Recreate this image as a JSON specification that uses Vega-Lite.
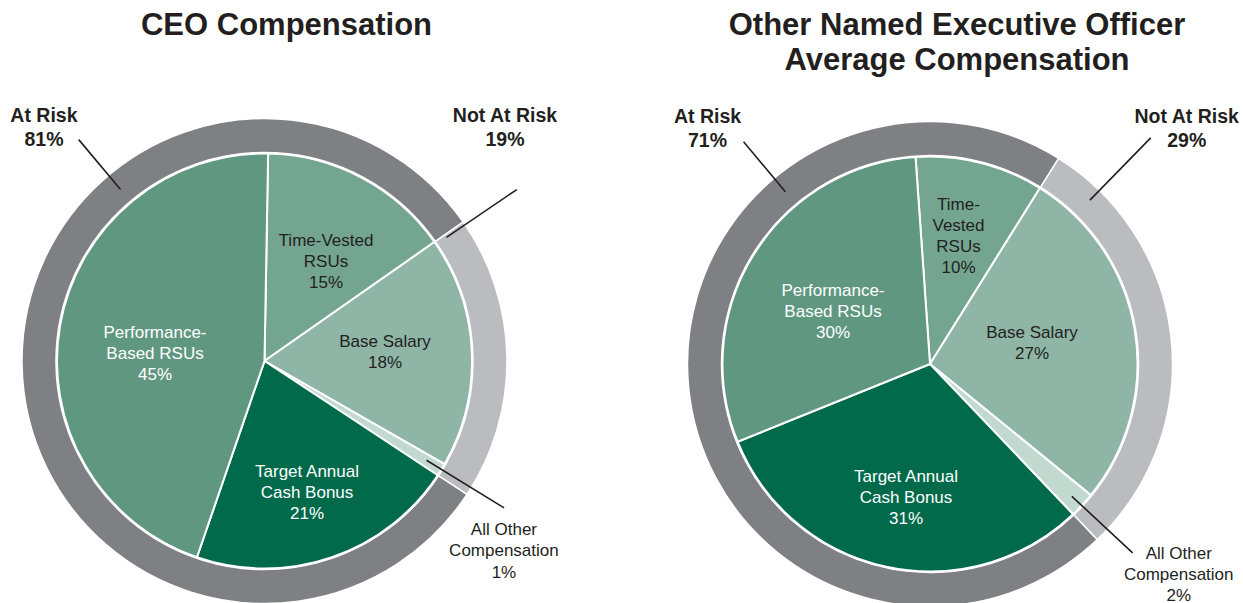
{
  "$schema": "https://vega.github.io/schema/vega-lite/v6.json",
  "padding": {"top": 10, "left": 0, "right": 0, "bottom": 0},
  "spacing": 131,
  "bounds": "flush",
  "config": {
    "view": {"stroke": null},
    "font": "Liberation Sans",
    "title": {"font": "Liberation Sans", "fontSize": 31, "fontWeight": "bold", "color": "#231f20", "lineHeight": 35, "anchor": "middle", "frame": "group"}
  },
  "datasets": {
    "ceoPie": [
      {"segment": "Time-Vested RSUs", "value": 15, "rank": 1, "label": "Time-Vested\nRSUs\n15%"},
      {"segment": "Base Salary", "value": 18, "rank": 2, "label": "Base Salary\n18%"},
      {"segment": "All Other Compensation", "value": 1, "rank": 3, "label": "All Other\nCompensation\n1%"},
      {"segment": "Target Annual Cash Bonus", "value": 21, "rank": 4, "label": "Target Annual\nCash Bonus\n21%"},
      {"segment": "Performance-Based RSUs", "value": 45, "rank": 5, "label": "Performance-\nBased RSUs\n45%"}
    ],
    "ceoRing": [
      {"segment": "Not At Risk", "value": 19, "rank": 1, "label": "Not At Risk\n19%"},
      {"segment": "At Risk", "value": 81, "rank": 2, "label": "At Risk\n81%"}
    ],
    "neoPie": [
      {"segment": "Time-Vested RSUs", "value": 10, "rank": 1, "label": "Time-\nVested\nRSUs\n10%"},
      {"segment": "Base Salary", "value": 27, "rank": 2, "label": "Base Salary\n27%"},
      {"segment": "All Other Compensation", "value": 2, "rank": 3, "label": "All Other\nCompensation\n2%"},
      {"segment": "Target Annual Cash Bonus", "value": 31, "rank": 4, "label": "Target Annual\nCash Bonus\n31%"},
      {"segment": "Performance-Based RSUs", "value": 30, "rank": 5, "label": "Performance-\nBased RSUs\n30%"}
    ],
    "neoRing": [
      {"segment": "Not At Risk", "value": 29, "rank": 1, "label": "Not At Risk\n29%"},
      {"segment": "At Risk", "value": 71, "rank": 2, "label": "At Risk\n71%"}
    ]
  },
  "hconcat": [
    {
      "width": 529,
      "height": 540,
      "title": {"text": "CEO Compensation", "dx": 22, "offset": 49},
      "resolve": {"scale": {"theta": "independent"}},
      "layer": [
        {
          "data": {"name": "ceoRing"},
          "mark": {"type": "arc", "outerRadius": 242.5, "innerRadius": 208.5, "stroke": "white", "strokeWidth": 1.5},
          "encoding": {
            "theta": {"field": "value", "type": "quantitative", "stack": true, "scale": {"domain": [0, 100], "range": [0.95993, 7.24312]}},
            "order": {"field": "rank"},
            "color": {"field": "segment", "type": "nominal", "legend": null, "scale": {"domain": ["Performance-Based RSUs", "Time-Vested RSUs", "Base Salary", "All Other Compensation", "Target Annual Cash Bonus", "At Risk", "Not At Risk"], "range": ["#5f9781", "#74a591", "#8fb5a6", "#c1d9cf", "#006a4b", "#7f8083", "#bbbcc0"]}}
          }
        },
        {
          "data": {"name": "ceoPie"},
          "mark": {"type": "arc", "outerRadius": 207.5, "stroke": "white", "strokeWidth": 2},
          "encoding": {
            "theta": {"field": "value", "type": "quantitative", "stack": true, "scale": {"domain": [0, 100], "range": [0.01745, 6.30064]}},
            "order": {"field": "rank"},
            "color": {"field": "segment", "type": "nominal", "legend": null, "scale": {"domain": ["Performance-Based RSUs", "Time-Vested RSUs", "Base Salary", "All Other Compensation", "Target Annual Cash Bonus", "At Risk", "Not At Risk"], "range": ["#5f9781", "#74a591", "#8fb5a6", "#c1d9cf", "#006a4b", "#7f8083", "#bbbcc0"]}}
          }
        },
        {
          "data": {"name": "ceoPie"},
          "transform": [{"filter": "datum.segment === 'Time-Vested RSUs'"}],
          "mark": {"type": "text", "radius": 134.6, "thetaOffset": -0.48538, "fontSize": 17, "lineHeight": 21, "lineBreak": "\n", "align": "center", "baseline": "middle", "fill": "#231f20"},
          "encoding": {
            "theta": {"field": "value", "type": "quantitative", "stack": null, "scale": {"domain": [0, 100], "range": [0.01745, 6.30064]}},
            "text": {"field": "label", "type": "nominal"}
          }
        },
        {
          "data": {"name": "ceoPie"},
          "transform": [{"filter": "datum.segment === 'Base Salary'"}],
          "mark": {"type": "text", "radius": 122, "thetaOffset": 0.266, "fontSize": 17, "lineHeight": 21, "lineBreak": "\n", "align": "center", "baseline": "middle", "fill": "#231f20"},
          "encoding": {
            "theta": {"field": "value", "type": "quantitative", "stack": null, "scale": {"domain": [0, 100], "range": [0.01745, 6.30064]}},
            "text": {"field": "label", "type": "nominal"}
          }
        },
        {
          "data": {"name": "ceoPie"},
          "transform": [{"filter": "datum.segment === 'Target Annual Cash Bonus'"}],
          "mark": {"type": "text", "radius": 119.3, "thetaOffset": 1.44042, "fontSize": 17, "lineHeight": 21, "lineBreak": "\n", "align": "center", "baseline": "middle", "fill": "white"},
          "encoding": {
            "theta": {"field": "value", "type": "quantitative", "stack": null, "scale": {"domain": [0, 100], "range": [0.01745, 6.30064]}},
            "text": {"field": "label", "type": "nominal"}
          }
        },
        {
          "data": {"name": "ceoPie"},
          "transform": [{"filter": "datum.segment === 'Performance-Based RSUs'"}],
          "mark": {"type": "text", "radius": 112.9, "thetaOffset": 2.11364, "fontSize": 17, "lineHeight": 21, "lineBreak": "\n", "align": "center", "baseline": "middle", "fill": "white"},
          "encoding": {
            "theta": {"field": "value", "type": "quantitative", "stack": null, "scale": {"domain": [0, 100], "range": [0.01745, 6.30064]}},
            "text": {"field": "label", "type": "nominal"}
          }
        },
        {
          "data": {"name": "ceoPie"},
          "transform": [{"filter": "datum.segment === 'All Other Compensation'"}],
          "mark": {"type": "text", "radius": 292.9, "thetaOffset": 2.10435, "fontSize": 17, "lineHeight": 21.7, "lineBreak": "\n", "align": "center", "baseline": "middle", "fill": "#231f20"},
          "encoding": {
            "theta": {"field": "value", "type": "quantitative", "stack": null, "scale": {"domain": [0, 100], "range": [0.01745, 6.30064]}},
            "text": {"field": "label", "type": "nominal"}
          }
        },
        {
          "data": {"name": "ceoRing"},
          "transform": [{"filter": "datum.segment === 'At Risk'"}],
          "mark": {"type": "text", "radius": 329.5, "thetaOffset": -0.49939, "fontSize": 19.5, "fontWeight": "bold", "lineHeight": 24, "lineBreak": "\n", "align": "center", "baseline": "middle", "fill": "#231f20"},
          "encoding": {
            "theta": {"field": "value", "type": "quantitative", "stack": null, "scale": {"domain": [0, 100], "range": [0.95993, 7.24312]}},
            "text": {"field": "label", "type": "nominal"}
          }
        },
        {
          "data": {"name": "ceoRing"},
          "transform": [{"filter": "datum.segment === 'Not At Risk'"}],
          "mark": {"type": "text", "radius": 343.2, "thetaOffset": -1.37725, "fontSize": 19.5, "fontWeight": "bold", "lineHeight": 24, "lineBreak": "\n", "align": "center", "baseline": "middle", "fill": "#231f20"},
          "encoding": {
            "theta": {"field": "value", "type": "quantitative", "stack": null, "scale": {"domain": [0, 100], "range": [0.95993, 7.24312]}},
            "text": {"field": "label", "type": "nominal"}
          }
        },
        {
          "data": {"name": "ceoRing"},
          "transform": [{"filter": "datum.segment === 'At Risk'"}],
          "mark": {"type": "arc", "outerRadius": 289, "innerRadius": 224, "thetaOffset": -0.46426, "theta2Offset": -0.46426, "stroke": "#231f20", "strokeWidth": 1.6, "fillOpacity": 0},
          "encoding": {
            "theta": {"field": "value", "type": "quantitative", "stack": null, "scale": {"domain": [0, 100], "range": [0.95993, 7.24312]}},
            "theta2": {"field": "value"}
          }
        },
        {
          "data": {"name": "ceoRing"},
          "transform": [{"filter": "datum.segment === 'Not At Risk'"}],
          "mark": {"type": "arc", "outerRadius": 305, "innerRadius": 220, "thetaOffset": -1.17985, "theta2Offset": -1.17985, "stroke": "#231f20", "strokeWidth": 1.6, "fillOpacity": 0},
          "encoding": {
            "theta": {"field": "value", "type": "quantitative", "stack": null, "scale": {"domain": [0, 100], "range": [0.95993, 7.24312]}},
            "theta2": {"field": "value"}
          }
        },
        {
          "data": {"name": "ceoPie"},
          "transform": [{"filter": "datum.segment === 'All Other Compensation'"}],
          "mark": {"type": "arc", "outerRadius": 281, "innerRadius": 190, "thetaOffset": 2.0403, "theta2Offset": 2.0403, "stroke": "#231f20", "strokeWidth": 1.6, "fillOpacity": 0},
          "encoding": {
            "theta": {"field": "value", "type": "quantitative", "stack": null, "scale": {"domain": [0, 100], "range": [0.01745, 6.30064]}},
            "theta2": {"field": "value"}
          }
        }
      ]
    },
    {
      "width": 540,
      "height": 546,
      "title": {"text": ["Other Named Executive Officer", "Average Compensation"], "dx": 27, "offset": 14},
      "resolve": {"scale": {"theta": "independent"}},
      "layer": [
        {
          "data": {"name": "neoRing"},
          "mark": {"type": "arc", "outerRadius": 242.5, "innerRadius": 208.5, "stroke": "white", "strokeWidth": 1.5},
          "encoding": {
            "theta": {"field": "value", "type": "quantitative", "stack": true, "scale": {"domain": [0, 100], "range": [0.55851, 6.8417]}},
            "order": {"field": "rank"},
            "color": {"field": "segment", "type": "nominal", "legend": null, "scale": {"domain": ["Performance-Based RSUs", "Time-Vested RSUs", "Base Salary", "All Other Compensation", "Target Annual Cash Bonus", "At Risk", "Not At Risk"], "range": ["#5f9781", "#74a591", "#8fb5a6", "#c1d9cf", "#006a4b", "#7f8083", "#bbbcc0"]}}
          }
        },
        {
          "data": {"name": "neoPie"},
          "mark": {"type": "arc", "outerRadius": 207.5, "stroke": "white", "strokeWidth": 2},
          "encoding": {
            "theta": {"field": "value", "type": "quantitative", "stack": true, "scale": {"domain": [0, 100], "range": [-0.06981, 6.21338]}},
            "order": {"field": "rank"},
            "color": {"field": "segment", "type": "nominal", "legend": null, "scale": {"domain": ["Performance-Based RSUs", "Time-Vested RSUs", "Base Salary", "All Other Compensation", "Target Annual Cash Bonus", "At Risk", "Not At Risk"], "range": ["#5f9781", "#74a591", "#8fb5a6", "#c1d9cf", "#006a4b", "#7f8083", "#bbbcc0"]}}
          }
        },
        {
          "data": {"name": "neoPie"},
          "transform": [{"filter": "datum.segment === 'Time-Vested RSUs'"}],
          "mark": {"type": "text", "radius": 162, "thetaOffset": -0.38171, "fontSize": 17, "lineHeight": 21, "lineBreak": "\n", "align": "center", "baseline": "middle", "fill": "#231f20"},
          "encoding": {
            "theta": {"field": "value", "type": "quantitative", "stack": null, "scale": {"domain": [0, 100], "range": [-0.06981, 6.21338]}},
            "text": {"field": "label", "type": "nominal"}
          }
        },
        {
          "data": {"name": "neoPie"},
          "transform": [{"filter": "datum.segment === 'Base Salary'"}],
          "mark": {"type": "text", "radius": 106.5, "thetaOffset": -0.34645, "fontSize": 17, "lineHeight": 21, "lineBreak": "\n", "align": "center", "baseline": "middle", "fill": "#231f20"},
          "encoding": {
            "theta": {"field": "value", "type": "quantitative", "stack": null, "scale": {"domain": [0, 100], "range": [-0.06981, 6.21338]}},
            "text": {"field": "label", "type": "nominal"}
          }
        },
        {
          "data": {"name": "neoPie"},
          "transform": [{"filter": "datum.segment === 'Target Annual Cash Bonus'"}],
          "mark": {"type": "text", "radius": 116, "thetaOffset": 1.47202, "fontSize": 17, "lineHeight": 21, "lineBreak": "\n", "align": "center", "baseline": "middle", "fill": "white"},
          "encoding": {
            "theta": {"field": "value", "type": "quantitative", "stack": null, "scale": {"domain": [0, 100], "range": [-0.06981, 6.21338]}},
            "text": {"field": "label", "type": "nominal"}
          }
        },
        {
          "data": {"name": "neoPie"},
          "transform": [{"filter": "datum.segment === 'Performance-Based RSUs'"}],
          "mark": {"type": "text", "radius": 121.7, "thetaOffset": 3.54563, "fontSize": 17, "lineHeight": 21, "lineBreak": "\n", "align": "center", "baseline": "middle", "fill": "white"},
          "encoding": {
            "theta": {"field": "value", "type": "quantitative", "stack": null, "scale": {"domain": [0, 100], "range": [-0.06981, 6.21338]}},
            "text": {"field": "label", "type": "nominal"}
          }
        },
        {
          "data": {"name": "neoPie"},
          "transform": [{"filter": "datum.segment === 'All Other Compensation'"}],
          "mark": {"type": "text", "radius": 313, "thetaOffset": 2.16735, "fontSize": 17, "lineHeight": 21, "lineBreak": "\n", "align": "center", "baseline": "middle", "fill": "#231f20"},
          "encoding": {
            "theta": {"field": "value", "type": "quantitative", "stack": null, "scale": {"domain": [0, 100], "range": [-0.06981, 6.21338]}},
            "text": {"field": "label", "type": "nominal"}
          }
        },
        {
          "data": {"name": "neoRing"},
          "transform": [{"filter": "datum.segment === 'At Risk'"}],
          "mark": {"type": "text", "radius": 332.3, "thetaOffset": 0.53, "fontSize": 19.5, "fontWeight": "bold", "lineHeight": 24, "lineBreak": "\n", "align": "center", "baseline": "middle", "fill": "#231f20"},
          "encoding": {
            "theta": {"field": "value", "type": "quantitative", "stack": null, "scale": {"domain": [0, 100], "range": [0.55851, 6.8417]}},
            "text": {"field": "label", "type": "nominal"}
          }
        },
        {
          "data": {"name": "neoRing"},
          "transform": [{"filter": "datum.segment === 'Not At Risk'"}],
          "mark": {"type": "text", "radius": 356.1, "thetaOffset": -1.57553, "fontSize": 19.5, "fontWeight": "bold", "lineHeight": 24, "lineBreak": "\n", "align": "center", "baseline": "middle", "fill": "#231f20"},
          "encoding": {
            "theta": {"field": "value", "type": "quantitative", "stack": null, "scale": {"domain": [0, 100], "range": [0.55851, 6.8417]}},
            "text": {"field": "label", "type": "nominal"}
          }
        },
        {
          "data": {"name": "neoRing"},
          "transform": [{"filter": "datum.segment === 'At Risk'"}],
          "mark": {"type": "arc", "outerRadius": 290, "innerRadius": 225, "thetaOffset": 0.56548, "theta2Offset": 0.56548, "stroke": "#231f20", "strokeWidth": 1.6, "fillOpacity": 0},
          "encoding": {
            "theta": {"field": "value", "type": "quantitative", "stack": null, "scale": {"domain": [0, 100], "range": [0.55851, 6.8417]}},
            "theta2": {"field": "value"}
          }
        },
        {
          "data": {"name": "neoRing"},
          "transform": [{"filter": "datum.segment === 'Not At Risk'"}],
          "mark": {"type": "arc", "outerRadius": 316, "innerRadius": 229, "thetaOffset": -1.60746, "theta2Offset": -1.60746, "stroke": "#231f20", "strokeWidth": 1.6, "fillOpacity": 0},
          "encoding": {
            "theta": {"field": "value", "type": "quantitative", "stack": null, "scale": {"domain": [0, 100], "range": [0.55851, 6.8417]}},
            "theta2": {"field": "value"}
          }
        },
        {
          "data": {"name": "neoPie"},
          "transform": [{"filter": "datum.segment === 'All Other Compensation'"}],
          "mark": {"type": "arc", "outerRadius": 277, "innerRadius": 194, "thetaOffset": 2.26544, "theta2Offset": 2.26544, "stroke": "#231f20", "strokeWidth": 1.6, "fillOpacity": 0},
          "encoding": {
            "theta": {"field": "value", "type": "quantitative", "stack": null, "scale": {"domain": [0, 100], "range": [-0.06981, 6.21338]}},
            "theta2": {"field": "value"}
          }
        }
      ]
    }
  ]
}
